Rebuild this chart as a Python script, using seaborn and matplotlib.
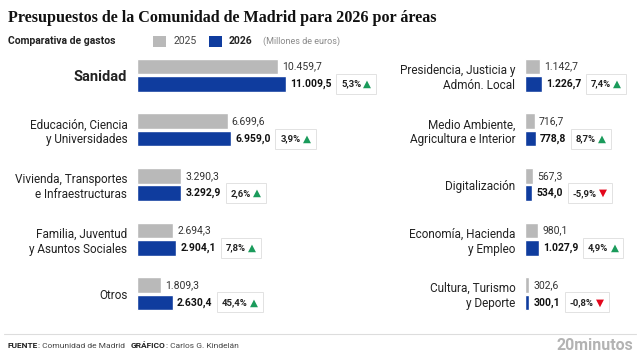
import pandas as pd
import matplotlib
matplotlib.use("Agg")
import matplotlib.pyplot as plt
from matplotlib.patches import Rectangle
from matplotlib.lines import Line2D
from matplotlib.offsetbox import TextArea, HPacker, AnnotationBbox
import seaborn as sns

# datos (millones de euros)
areas_izq = ["Sanidad", "Educación, Ciencia\ny Universidades", "Vivienda, Transportes\ne Infraestructuras",
             "Familia, Juventud\ny Asuntos Sociales", "Otros"]
gasto_2025_izq = [10459.7, 6699.6, 3290.3, 2694.3, 1809.3]
gasto_2026_izq = [11009.5, 6959.0, 3292.9, 2904.1, 2630.4]
var_izq = [5.3, 3.9, 2.6, 7.8, 45.4]

areas_der = ["Presidencia, Justicia y\nAdmón. Local", "Medio Ambiente,\nAgricultura e Interior", "Digitalización",
             "Economía, Hacienda\ny Empleo", "Cultura, Turismo\ny Deporte"]
gasto_2025_der = [1142.7, 716.7, 567.3, 980.1, 302.6]
gasto_2026_der = [1226.7, 778.8, 534.0, 1027.9, 300.1]
var_der = [7.4, 8.7, -5.9, 4.9, -0.8]

years = ["2025", "2026"]

GRIS = "#b9b9b9"
AZUL = "#0f3c9e"
VERDE = "#1a9b5b"
ROJO = "#e3061b"
TXT = "#222222"
SCALE = 74  # euros (millones) por pixel

sns.set_style("white")
plt.rcParams["font.family"] = ["Roboto", "DejaVu Sans"]

W, H = 640, 360
fig = plt.figure(figsize=(6.4, 3.6), dpi=100)


def es(v):
    return f"{v:,.1f}".replace(",", "X").replace(".", ",").replace("X", ".")


def panel(ax, areas, v25, v26, var, width_px):
    df = pd.DataFrame({"area": areas * 2,
                       "año": [years[0]] * len(areas) + [years[1]] * len(areas),
                       "valor": v25 + v26})
    sns.barplot(data=df, x="valor", y="area", hue="año", hue_order=years, palette=[GRIS, AZUL],
                orient="h", width=0.64, gap=0.1, saturation=1, legend=False, ax=ax)
    ax.set_xlim(0, width_px * SCALE)
    ax.set_ylim(len(areas) - 0.5, -0.5)
    ax.set_xlabel("")
    ax.set_ylabel("")
    ax.set_xticks([])
    ax.set_facecolor("none")
    sns.despine(ax=ax, left=True, bottom=True)
    ax.tick_params(axis="y", length=0, pad=7, labelsize=8.5, labelcolor=TXT)

    ax.bar_label(ax.containers[0], labels=[es(v) for v in v25], padding=3, fontsize=7.5, color="#333333")
    t26 = ax.bar_label(ax.containers[1], labels=[es(v) for v in v26], padding=3, fontsize=7.5,
                       fontweight="bold", color="#111111")

    # caja con la variación porcentual
    for t, p in zip(t26, var):
        pct = TextArea(f"{p:.1f}%".replace(".", ","),
                       textprops=dict(fontsize=6.8, fontweight="bold", color=TXT))
        tri = TextArea("▲" if p >= 0 else "▼",
                       textprops=dict(fontsize=7.5, color=VERDE if p >= 0 else ROJO, family="DejaVu Sans"))
        pack = HPacker(children=[pct, tri], pad=0, sep=1.5, align="center")
        ab = AnnotationBbox(pack, xy=(1, 0.5), xycoords=t, xybox=(7, 0), boxcoords="offset points",
                            box_alignment=(0, 0.5), frameon=True,
                            bboxprops=dict(boxstyle="square,pad=0.36", fc="white", ec="#e2e2e2", lw=0.7))
        ax.add_artist(ab)


bottom = 1 - 321 / H
height = 273 / H
ax_izq = fig.add_axes([137 / W, bottom, 240 / W, height])
ax_der = fig.add_axes([525 / W, bottom, 110 / W, height])

panel(ax_izq, areas_izq, gasto_2025_izq, gasto_2026_izq, var_izq, 240)
panel(ax_der, areas_der, gasto_2025_der, gasto_2026_der, var_der, 110)

lab = ax_izq.get_yticklabels()[0]
lab.set_fontweight("bold")
lab.set_fontsize(10.5)

# titulo y subtitulo
fig.text(8 / W, 1 - 18 / H, "Presupuestos de la Comunidad de Madrid para 2026 por áreas",
         family="Liberation Serif", fontweight="bold", fontsize=11.6, color="#111111", va="center")
fig.text(8 / W, 1 - 41 / H, "Comparativa de gastos", fontweight="bold", fontsize=7.5, color=TXT, va="center")

# leyenda
fig.patches.append(Rectangle((153 / W, 1 - 47 / H), 13 / W, 11 / H, transform=fig.transFigure,
                             fc=GRIS, ec="none"))
fig.text(174 / W, 1 - 41 / H, years[0], fontsize=7.5, color="#444444", va="center")
fig.patches.append(Rectangle((209 / W, 1 - 47 / H), 13 / W, 11 / H, transform=fig.transFigure,
                             fc=AZUL, ec="none"))
fig.text(229 / W, 1 - 41 / H, years[1], fontsize=7.5, fontweight="bold", color=TXT, va="center")
fig.text(263 / W, 1 - 41 / H, "(Millones de euros)", fontsize=6.5, color="#8a8a8a", va="center")

# pie
fig.add_artist(Line2D([4 / W, 636 / W], [1 - 334 / H, 1 - 334 / H], color="#dddddd", lw=0.8))


def pie(x, negrita, resto):
    caja = HPacker(children=[TextArea(negrita, textprops=dict(fontsize=6, fontweight="bold", color=TXT)),
                             TextArea(resto, textprops=dict(fontsize=6, color="#444444"))],
                   pad=0, sep=0, align="baseline")
    fig.add_artist(AnnotationBbox(caja, (x / W, 1 - 345 / H), xycoords="figure fraction",
                                  box_alignment=(0, 0.5), frameon=False, pad=0))


pie(8, "FUENTE", ": Comunidad de Madrid")
pie(131, "GRÁFICO", ": Carlos G. Kindelán")
fig.text(633 / W, 1 - 345 / H, "20minutos", fontsize=11.5, fontweight="bold", color="#b3b3b3",
         ha="right", va="center")

fig.savefig("out.png", dpi=100, facecolor="white")
